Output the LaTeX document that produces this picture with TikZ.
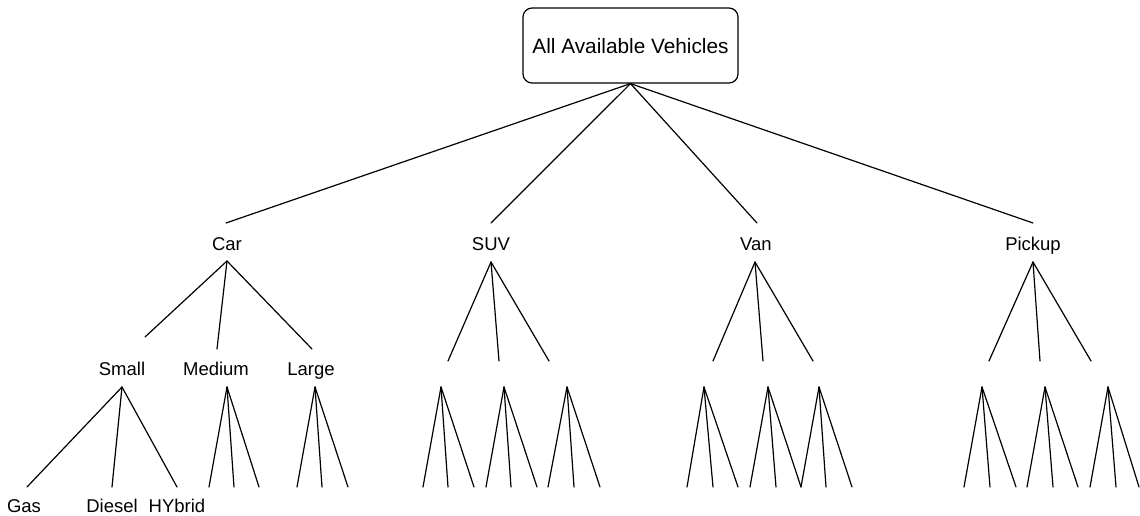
\documentclass[tikz,border=0pt]{standalone}
\usepackage{fontspec}
\setmainfont{Liberation Sans}
\begin{document}
\begin{tikzpicture}[x=1pt,y=-1pt,
  edge/.style={line width=1.2pt, line cap=round},
  rootbox/.style={draw, line width=1.2pt, rounded corners=9pt, minimum width=215pt, minimum height=75pt, inner sep=0pt, font=\fontsize{20.8}{24}\selectfont},
  lab/.style={anchor=base, inner sep=0pt, font=\fontsize{18.5}{22}\selectfont}]
\useasboundingbox (0,0) rectangle (1140,516);
% root
\node[rootbox] (root) at (630.5,45.5) {};
\node[lab, font=\fontsize{20.8}{24}\selectfont] (roottxt) at (630.5,54) {All Available Vehicles};
% level 1 labels
\node[lab] (car) at (227,250) {Car};
\node[lab] (suv) at (491,250) {SUV};
\node[lab] (van) at (756,250) {Van};
\node[lab] (pick) at (1033,250) {Pickup};
% level 1 connection points
\coordinate (car-t) at (226,223);
\coordinate (suv-t) at (491,223);
\coordinate (van-t) at (757,223);
\coordinate (pick-t) at (1033,223);
\coordinate (car-a) at (227,261);
\coordinate (suv-a) at (491,262);
\coordinate (van-a) at (755,262);
\coordinate (pick-a) at (1033,262);
\foreach \n in {car,suv,van,pick} \draw[edge] (root.south) -- (\n-t);
% car children
\node[lab] (small) at (122,375) {Small};
\node[lab] (medium) at (216,375) {Medium};
\node[lab] (large) at (311,375) {Large};
\coordinate (small-t) at (145,337);
\coordinate (medium-t) at (217,349);
\coordinate (large-t) at (312,349);
\foreach \n in {small,medium,large} \draw[edge] (car-a) -- (\n-t);
% other level-2 ends (unlabelled)
\foreach \p/\xa/\xb/\xc in {suv/448/499/549, van/713/763/813, pick/989/1040/1091}{
  \coordinate (\p-e1) at (\xa,361);
  \coordinate (\p-e2) at (\xb,361);
  \coordinate (\p-e3) at (\xc,361);
  \draw[edge] (\p-a) -- (\p-e1);
  \draw[edge] (\p-a) -- (\p-e2);
  \draw[edge] (\p-a) -- (\p-e3);
}
% level-2 apexes
\foreach \n/\x in {small/122, medium/227, large/315, suv1/441, suv2/504, suv3/567, van1/704, van2/768, van3/819, pick1/982, pick2/1045, pick3/1108}
  \coordinate (\n-a) at (\x,387);
% leaves
\foreach \n/\xa/\xb/\xc in {small/27/112/177, medium/209/234/259, large/297/322/348, suv1/423/448/474, suv2/486/511/537, suv3/548/574/600, van1/687/713/738, van2/750/776/801, van3/801/826/852, pick1/964/990/1016, pick2/1027/1053/1078, pick3/1090/1116/1139}{
  \coordinate (\n-l1) at (\xa,487);
  \coordinate (\n-l2) at (\xb,487);
  \coordinate (\n-l3) at (\xc,487);
  \draw[edge] (\n-a) -- (\n-l1);
  \draw[edge] (\n-a) -- (\n-l2);
  \draw[edge] (\n-a) -- (\n-l3);
}
% leaf labels
\node[lab] (gas) at (24,512) {Gas};
\node[lab] (diesel) at (112,512) {Diesel};
\node[lab] (hybrid) at (177,512) {HYbrid};
\end{tikzpicture}
\end{document}
